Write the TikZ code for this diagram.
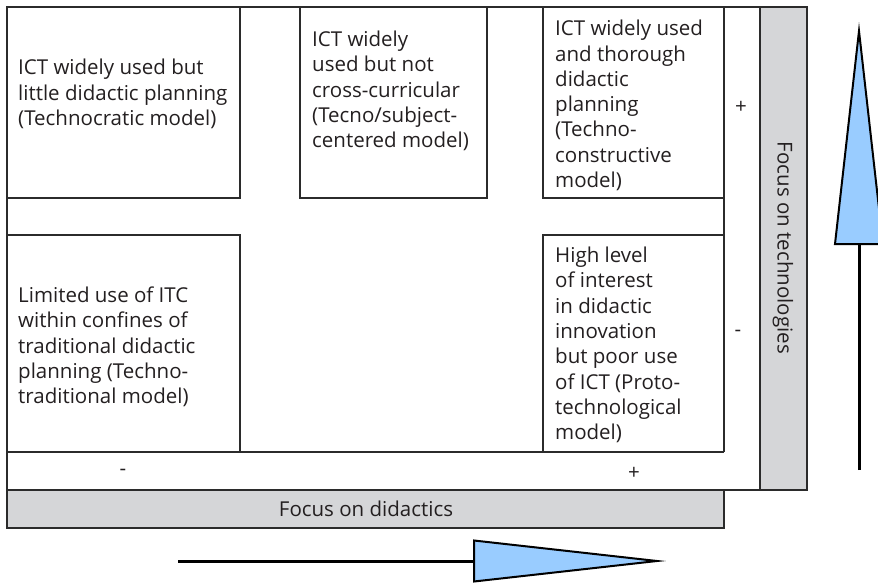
\documentclass[tikz,border=0pt]{standalone}
\usepackage{fontspec}
\setmainfont{Open Sans}
\definecolor{ln}{HTML}{2B2B2B}
\definecolor{gr}{HTML}{D5D6D8}
\definecolor{ab}{HTML}{99CCFF}
\definecolor{tx}{HTML}{231F20}
\tikzset{
  frame/.style={draw=ln, line width=1.5pt},
  greybar/.style={frame, fill=gr},
  lbl/.style={font=\fontsize{20.5}{25.3}\selectfont, text=tx, align=left, anchor=west, inner sep=0pt},
  sign/.style={font=\fontsize{20.5}{25.3}\selectfont, text=tx, inner sep=0pt},
  arrline/.style={draw=black, line width=3pt},
  arrhead/.style={draw=black, fill=ab, line width=2pt, line join=miter},
}
\begin{document}
\begin{tikzpicture}[x=1pt,y=-1pt]
\useasboundingbox (0,0) rectangle (878,583);
\clip (0,0) rectangle (878,583);
% grey bars
\draw[greybar] (760,7) rectangle (807,490);
\draw[greybar] (7,490) rectangle (724,528);
% outer frame and rows
\draw[frame] (7,528) -- (7,7) -- (760,7);
\draw[frame] (7,490) -- (760,490);
\draw[frame] (7,452) -- (724,452);
% box 1
\draw[frame] (7,198) -- (240,198) -- (240,7);
% box 2
\draw[frame] (300,7) rectangle (487,198);
% box 3 and box 5
\draw[frame] (543,7) -- (543,198) -- (724,198);
\draw[frame] (724,7) -- (724,452);
\draw[frame] (543,452) -- (543,235) -- (724,235);
% box 4
\draw[frame] (7,235) -- (240,235) -- (240,452);
% texts
\node[lbl] (t1) at (18,94) {ICT widely used but\\little didactic planning\\(Technocratic model)};
\node[lbl] (t2) at (312,91) {ICT widely\\used but not\\cross-curricular\\(Tecno/subject-\\centered model)};
\node[lbl] (t3) at (555,105.5) {ICT widely used\\and thorough\\didactic\\planning\\(Techno-\\constructive\\model)};
\node[lbl] (t4) at (18,347) {Limited use of ITC\\within confines of\\traditional didactic\\planning (Techno-\\traditional model)};
\node[lbl] (t5) at (555,345) {High level\\of interest\\in didactic\\innovation\\but poor use\\of ICT (Proto-\\technological\\model)};
% signs
\node[sign] (plusT) at (741,107) {+};
\node[sign] (minusT) at (738,333) {-};
\node[sign] (minusD) at (123,472) {-};
\node[sign] (plusD) at (634,473) {+};
% bar labels
\node[sign, rotate=-90] (ftech) at (783,248) {Focus on technologies};
\node[sign] (fdid) at (366,509) {Focus on didactics};
% arrows
\coordinate (vbot) at (859,470);
\coordinate (vbase) at (859,244);
\draw[arrline] (vbot) -- (vbase);
\draw[arrhead] (835,244) -- (859,31) -- (883,244) -- cycle;
\coordinate (hleft) at (178,561);
\coordinate (hbase) at (474,561);
\draw[arrline] (hleft) -- (hbase);
\draw[arrhead] (474,540.5) -- (657,561) -- (474,581.5) -- cycle;
\end{tikzpicture}
\end{document}
